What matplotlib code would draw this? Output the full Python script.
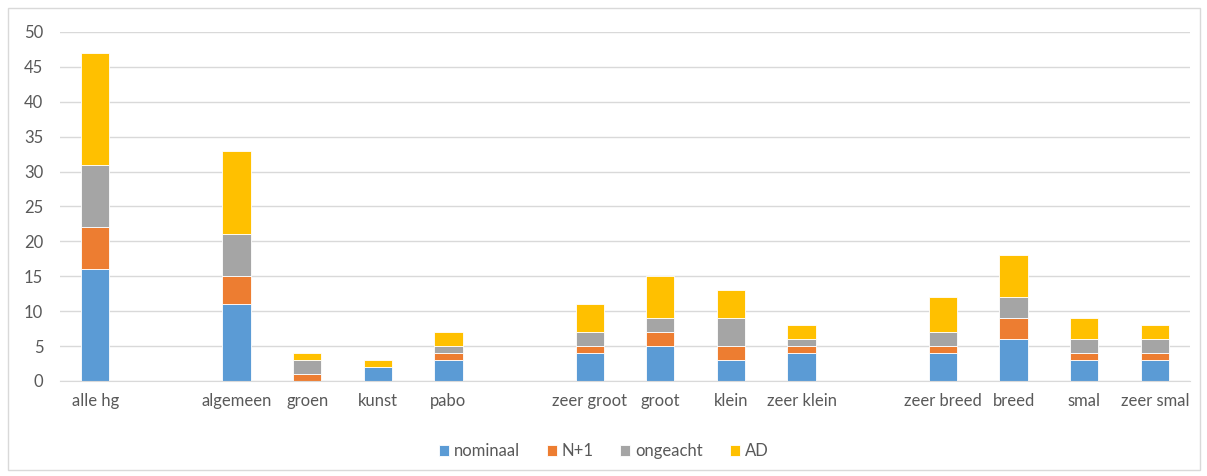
import numpy as np
import matplotlib.pyplot as plt
from matplotlib.patches import Rectangle

categories = ['alle hg', '', 'algemeen', 'groen', 'kunst', 'pabo', '',
              'zeer groot', 'groot', 'klein', 'zeer klein', '',
              'zeer breed', 'breed', 'smal', 'zeer smal']
nominaal = [16, 0, 11, 0, 2, 3, 0, 4, 5, 3, 4, 0, 4, 6, 3, 3]
n_plus_1 = [6, 0, 4, 1, 0, 1, 0, 1, 2, 2, 1, 0, 1, 3, 1, 1]
ongeacht = [9, 0, 6, 2, 0, 1, 0, 2, 2, 4, 1, 0, 2, 3, 2, 2]
ad = [16, 0, 12, 1, 1, 2, 0, 4, 6, 4, 2, 0, 5, 6, 3, 2]

series = ['nominaal', 'N+1', 'ongeacht', 'AD']
colors = ['#5b9bd5', '#ed7d31', '#a5a5a5', '#ffc000']

plt.rcParams['font.family'] = ['Lato', 'DejaVu Sans']
txt = '#595959'

fig = plt.figure(figsize=(12.07, 4.76), dpi=100)
ax = fig.add_axes([0.0497, 0.1996, 0.9363, 0.7332])

x = np.arange(len(categories))
bottom = np.zeros(len(categories))
for name, vals, c in zip(series, [nominaal, n_plus_1, ongeacht, ad], colors):
    vals = np.array(vals, dtype=float)
    ax.bar(x, vals, 0.4, bottom=bottom, color=c, label=name,
           edgecolor='white', linewidth=0.6)
    bottom += vals

ax.set_xlim(-0.5, len(categories) - 0.5)
ax.set_ylim(0, 50)
ax.set_yticks(range(0, 51, 5))
ax.set_xticks(x)
ax.set_xticklabels(categories)
ax.grid(axis='y', color='#d9d9d9', linewidth=1)
ax.set_axisbelow(True)
for s in ['top', 'right', 'left']:
    ax.spines[s].set_visible(False)
ax.spines['bottom'].set_color('#d9d9d9')
ax.tick_params(length=0, colors=txt, labelsize=12)
ax.tick_params(axis='x', pad=9)
ax.tick_params(axis='y', pad=12)

fig.legend(loc='center', bbox_to_anchor=(0.5, 0.052), ncol=4, frameon=False,
           fontsize=12, labelcolor=txt, handlelength=0.6, handleheight=0.6,
           handletextpad=0.3, columnspacing=1.6)

fig.patches.append(Rectangle((0.007, 0.013), 0.987, 0.97, transform=fig.transFigure,
                             fill=False, edgecolor='#d9d9d9', linewidth=1))

fig.savefig('out.png', dpi=100)
